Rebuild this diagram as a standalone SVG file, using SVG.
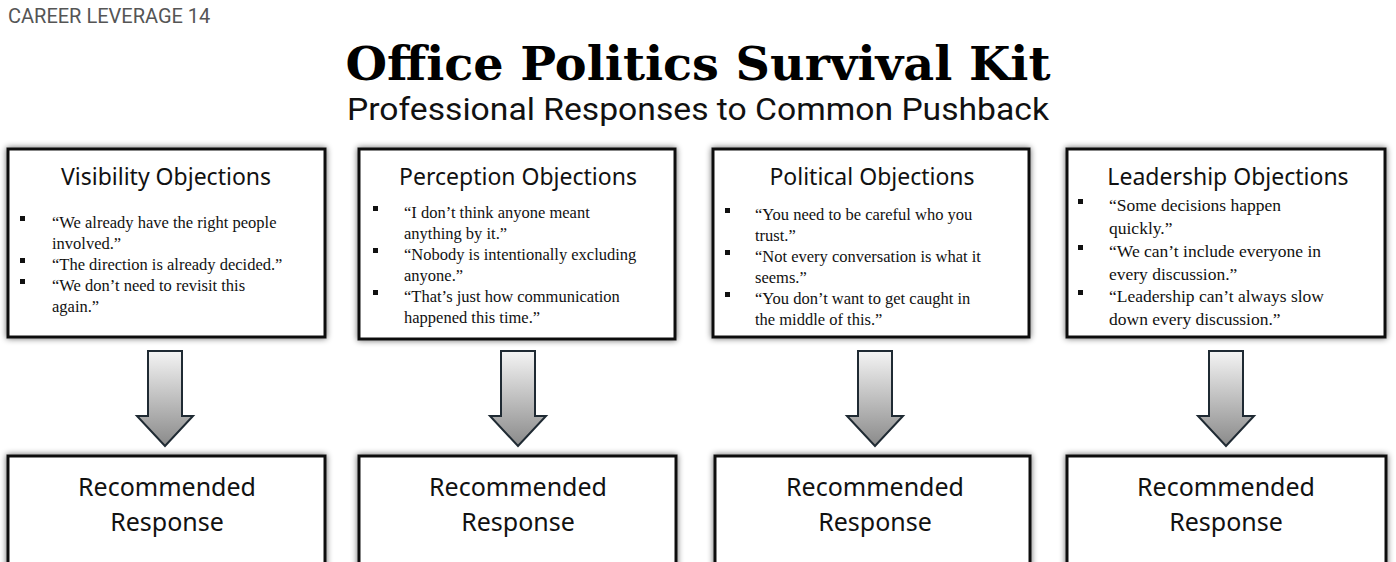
<svg xmlns="http://www.w3.org/2000/svg" width="1396" height="562" viewBox="0 0 1396 562">
<defs>
<filter id="sh" x="-10%" y="-10%" width="120%" height="120%"><feGaussianBlur in="SourceAlpha" stdDeviation="3"/><feOffset dx="0" dy="0"/><feComponentTransfer><feFuncA type="linear" slope="0.6"/></feComponentTransfer><feMerge><feMergeNode/><feMergeNode in="SourceGraphic"/></feMerge></filter>
<linearGradient id="ag" x1="0" y1="0" x2="0" y2="1"><stop offset="0" stop-color="#f4f4f4"/><stop offset="1" stop-color="#8a8a8a"/></linearGradient>
<path id="arr" d="M-17,0 H17 V65 H28 L0,95 L-28,65 H-17 Z"/>
</defs>
<style>
.box{fill:#fff;stroke:#111;stroke-width:3;filter:url(#sh)}
.h{font-family:"Noto Sans","Open Sans",sans-serif;font-size:23px;fill:#111;text-anchor:middle}
.b{font-family:"Liberation Serif",serif;font-size:16.5px;fill:#111}
.r{font-family:"Noto Sans","Open Sans",sans-serif;font-size:25px;fill:#111;text-anchor:middle}
.arrow{fill:url(#ag);stroke:#1f2a33;stroke-width:2}
</style>
<rect width="1396" height="562" fill="#fff"/>
<text x="8" y="23" font-family="Roboto,'Noto Sans',sans-serif" font-size="20" fill="#555">CAREER LEVERAGE 14</text>
<text x="698" y="80" text-anchor="middle" font-family="'DejaVu Serif',serif" font-weight="bold" font-size="46" fill="#000" textLength="705" lengthAdjust="spacingAndGlyphs">Office Politics Survival Kit</text>
<text x="698" y="120" text-anchor="middle" font-family="Roboto,'Noto Sans',sans-serif" font-size="31" fill="#111" textLength="702" lengthAdjust="spacingAndGlyphs">Professional Responses to Common Pushback</text>

<g id="visibility">
<rect class="box" x="8" y="149" width="317" height="188"/>
<text class="h" x="166" y="185">Visibility Objections</text>
<g class="b"><rect x="20" y="216" width="5" height="5"/><rect x="20" y="258" width="5" height="5"/><rect x="20" y="279" width="5" height="5"/>
<text x="52" y="228">“We already have the right people</text><text x="52" y="249">involved.”</text><text x="52" y="270">“The direction is already decided.”</text><text x="52" y="291">“We don’t need to revisit this</text><text x="52" y="312">again.”</text></g>
</g>
<g id="perception">
<rect class="box" x="359" y="149" width="316" height="190"/>
<text class="h" x="518" y="185">Perception Objections</text>
<g class="b"><rect x="373" y="206" width="5" height="5"/><rect x="373" y="248" width="5" height="5"/><rect x="373" y="290" width="5" height="5"/>
<text x="404" y="218">“I don’t think anyone meant</text><text x="404" y="239">anything by it.”</text><text x="404" y="260">“Nobody is intentionally excluding</text><text x="404" y="281">anyone.”</text><text x="404" y="302">“That’s just how communication</text><text x="404" y="323">happened this time.”</text></g>
</g>
<g id="political">
<rect class="box" x="713" y="149" width="316" height="188"/>
<text class="h" x="872" y="185">Political Objections</text>
<g class="b"><rect x="725" y="208" width="5" height="5"/><rect x="725" y="250" width="5" height="5"/><rect x="725" y="292" width="5" height="5"/>
<text x="755" y="220">“You need to be careful who you</text><text x="755" y="241">trust.”</text><text x="755" y="262">“Not every conversation is what it</text><text x="755" y="283">seems.”</text><text x="755" y="304">“You don’t want to get caught in</text><text x="755" y="325">the middle of this.”</text></g>
</g>
<g id="leadership">
<rect class="box" x="1067" y="149" width="318" height="188"/>
<text class="h" x="1228" y="185">Leadership Objections</text>
<g class="b" style="font-size:17.5px"><rect x="1078" y="199" width="5" height="5"/><rect x="1078" y="245" width="5" height="5"/><rect x="1078" y="290" width="5" height="5"/>
<text x="1109" y="211">“Some decisions happen</text><text x="1109" y="234">quickly.”</text><text x="1109" y="257">“We can’t include everyone in</text><text x="1109" y="280">every discussion.”</text><text x="1109" y="302">“Leadership can’t always slow</text><text x="1109" y="325">down every discussion.”</text></g>
</g>

<g id="connectors">
<use href="#arr" class="arrow" x="165" y="351"/>
<use href="#arr" class="arrow" x="518" y="351"/>
<use href="#arr" class="arrow" x="875" y="351"/>
<use href="#arr" class="arrow" x="1226" y="351"/>
</g>

<g id="resp1"><rect class="box" x="8" y="456" width="317" height="120"/><text class="r" x="167" y="496">Recommended</text><text class="r" x="167" y="531">Response</text></g>
<g id="resp2"><rect class="box" x="359" y="456" width="317" height="120"/><text class="r" x="518" y="496">Recommended</text><text class="r" x="518" y="531">Response</text></g>
<g id="resp3"><rect class="box" x="715" y="456" width="315" height="120"/><text class="r" x="875" y="496">Recommended</text><text class="r" x="875" y="531">Response</text></g>
<g id="resp4"><rect class="box" x="1067" y="456" width="319" height="120"/><text class="r" x="1226" y="496">Recommended</text><text class="r" x="1226" y="531">Response</text></g>
</svg>
